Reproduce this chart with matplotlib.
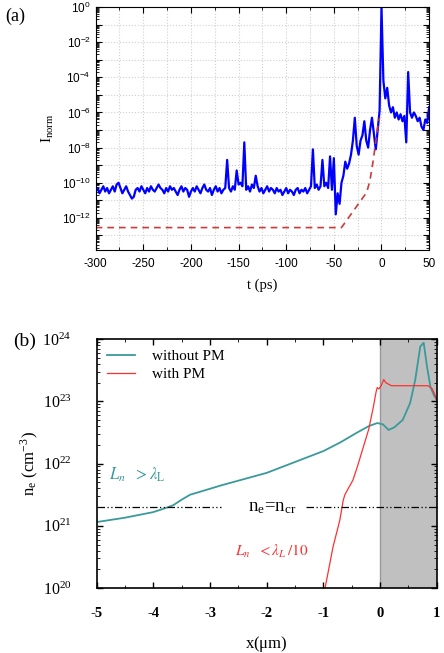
import numpy as np
import matplotlib
matplotlib.use("Agg")
import matplotlib.pyplot as plt
from matplotlib.ticker import FixedLocator, FuncFormatter, MultipleLocator, LogLocator, NullFormatter

plt.rcParams["mathtext.fontset"] = "stix"
plt.rcParams["axes.unicode_minus"] = False

# ---------------- data: panel (a) ----------------
t_ps = np.arange(-300, 51, 2)
log_I = [
    -10.5, -10.3, -10.6, -10.4, -10.2, -10.5, -10.3, -10.6, -10.4, -10.2,   # -300..-282
    -10.5, -10.1, -10.0, -10.3, -10.6, -10.4, -10.2, -10.5, -10.7, -10.9,   # -280..-262
    -10.8, -10.4, -10.3, -10.5, -10.2, -10.4, -10.6, -10.3, -10.5, -10.2,   # -260..-242
    -10.4, -10.5, -10.3, -10.1, -10.3, -10.4, -10.6, -10.3, -10.5, -10.2,   # -240..-222
    -10.4, -10.3, -10.5, -10.7, -10.4, -10.2, -10.5, -10.3, -10.4, -10.8,   # -220..-202
    -10.5, -10.3, -10.5, -10.2, -10.4, -10.6, -10.3, -10.1, -10.4, -10.5,   # -200..-182
    -10.3, -10.7, -10.4, -10.2, -10.5, -10.3, -10.6, -10.4, -10.3, -8.7,    # -180..-162
    -10.3, -10.5, -10.2, -10.4, -9.3, -10.1, -10.0, -10.2, -7.7, -10.4,     # -160..-142
    -10.2, -10.5, -10.1, -10.3, -9.6, -10.2, -10.5, -10.3, -10.6, -10.4,    # -140..-122
    -10.2, -10.5, -10.3, -10.4, -10.6, -10.3, -10.5, -10.4, -10.7, -10.5,   # -120..-102
    -10.3, -10.6, -10.4, -10.5, -10.7, -10.4, -10.3, -10.6, -10.4, -10.5,   # -100..-82
    -10.3, -10.6, -10.4, -10.2, -8.1, -10.3, -10.1, -10.4, -10.2, -8.7,     # -80..-62
    -10.2, -10.0, -10.3, -8.5, -10.4, -8.6, -11.8, -10.6, -11.2, -10.0,     # -60..-42
    -9.6, -8.8, -9.2, -8.9, -8.4, -7.6, -6.3, -7.9, -8.4, -7.6,             # -40..-22
    -7.3, -6.5, -7.6, -8.0, -7.0, -6.3, -7.2, -8.1, -7.0, -5.9,             # -20..-2
    0.0,                                                                    # 0
    -4.2, -5.2, -4.6, -5.6, -6.0, -5.7, -6.3, -6.0, -6.4, -6.1,             # 2..20
    -6.5, -6.2, -7.7, -3.7, -6.0, -6.3, -6.0, -6.2, -6.5, -6.3,             # 22..40
    -6.8, -7.0, -6.4, -6.6, -5.7,                                           # 42..50
]
t_contrast = [-300, -42, -15.6, -12.2, -8.7, -3.5, -2.0]
log_contrast = [-12.55, -12.55, -10.55, -9.9, -8.74, -6.65, -6.3]

# ---------------- data: panel (b) ----------------
x_noPM = [-5.0, -4.5, -4.0, -3.8, -3.65, -3.5, -3.35, -3.2, -2.8, -2.4, -2.0, -1.4, -1.0,
          -0.7, -0.4, -0.2, -0.05, 0.05, 0.15, 0.25, 0.4, 0.53, 0.62, 0.71, 0.77, 0.83,
          0.89, 0.95, 1.0]
log_noPM = [21.06, 21.13, 21.22, 21.28, 21.33, 21.42, 21.50, 21.54, 21.65, 21.75, 21.85,
            22.06, 22.20, 22.34, 22.50, 22.60, 22.65, 22.63, 22.54, 22.58, 22.70, 22.97,
            23.34, 23.88, 23.94, 23.55, 23.23, 23.10, 23.02]
x_PM = [-0.97, -0.83, -0.71, -0.65, -0.62, -0.56, -0.48, -0.4, -0.3, -0.2, -0.12, -0.07,
        -0.05, -0.02, 0.02, 0.065, 0.1, 0.2, 0.5, 0.85, 0.92, 0.97, 1.0]
log_PM = [20.0, 20.66, 21.09, 21.41, 21.5, 21.6, 21.73, 21.95, 22.25, 22.55, 22.9, 23.15,
          23.22, 23.2, 23.25, 23.35, 23.3, 23.25, 23.25, 23.25, 23.2, 23.1, 23.02]
n_cr = 2e21

fig = plt.figure(figsize=(4.44, 6.53), dpi=100)

# ================= panel (a) =================
ax = fig.add_axes([0.2155, 0.6172, 0.751, 0.3721])
ax.plot(t_ps, 10.0 ** np.array(log_I), color="#0000ff", lw=1.6)
ax.plot(t_contrast, 10.0 ** np.array(log_contrast), color="#cc3a3a", lw=1.2,
        ls=(0, (4, 3)))
ax.set_yscale("log")
ax.set_xlim(-300, 50)
ax.set_ylim(1.5e-14, 1)
ax.xaxis.set_major_locator(MultipleLocator(50))
ax.xaxis.set_minor_locator(MultipleLocator(25))
ax.yaxis.set_major_locator(FixedLocator([10.0 ** e for e in range(-14, 1)]))
ax.yaxis.set_minor_locator(LogLocator(base=10, subs=np.arange(2, 10), numticks=30))
ax.yaxis.set_minor_formatter(NullFormatter())


def fmt_a(v, pos):
    e = int(round(np.log10(v)))
    if e % 2 == 0 and e >= -12:
        return r"$\mathregular{10^{%d}}$" % e
    return ""


ax.yaxis.set_major_formatter(FuncFormatter(fmt_a))
ax.grid(True, which="both", axis="x", color="#d0d0d0", ls=":", lw=0.8)
ax.grid(True, which="major", axis="y", color="#d0d0d0", ls=":", lw=0.8)
ax.tick_params(which="both", direction="in", top=True, right=True,
               labelsize=8.5, labelfontfamily="Liberation Sans")
ax.tick_params(axis="x", pad=6)
ax.tick_params(which="major", length=4)
ax.tick_params(which="minor", length=2)
ax.set_xlabel("t (ps)", fontfamily="Liberation Serif", fontsize=10.5, labelpad=6)
ax.set_ylabel(r"I$_\mathregular{norm}$", fontfamily="Liberation Serif", fontsize=11)
fig.text(0.012, 0.975, "(a)", fontfamily="Liberation Serif", fontsize=13, va="center")

# ================= panel (b) =================
bx = fig.add_axes([0.2178, 0.0995, 0.7658, 0.3813])
bx.axvspan(0, 1, color="#c0c0c0", lw=0, zorder=0)
bx.axvline(0, color="#999999", lw=1.0, zorder=0.5)
l1, = bx.plot(x_noPM, 10.0 ** np.array(log_noPM), color="#3a9a9a", lw=1.3,
              label="without PM")
l2, = bx.plot(x_PM, 10.0 ** np.array(log_PM), color="#ff3030", lw=0.9, label="with PM")
dd = (0, (6, 2, 1, 2, 1, 2))
bx.plot([-5, -2.8], [n_cr, n_cr], color="black", lw=0.9, ls=dd)
bx.plot([-1.3, 1], [n_cr, n_cr], color="black", lw=0.9, ls=dd)
bx.text(-1.9, n_cr, r"n$_\mathregular{e}$=n$_\mathregular{cr}$", ha="center",
        va="center", fontsize=13.5, fontfamily="Liberation Serif")
bx.text(-4.78, 10 ** 21.82, r"$L_n\ \ >\lambda_\mathrm{L}$", color="#3a9a9a",
        fontsize=12, va="center")
bx.text(-2.56, 10 ** 20.58, r"$L_n\ \ <\lambda_L\,/10$", color="#ff3030",
        fontsize=11, va="center")
bx.set_yscale("log")
bx.set_xlim(-5, 1)
bx.set_ylim(1e20, 1e24)
bx.xaxis.set_major_locator(MultipleLocator(1))
bx.xaxis.set_minor_locator(MultipleLocator(0.5))
bx.yaxis.set_major_locator(FixedLocator([1e20, 1e21, 1e22, 1e23, 1e24]))
bx.yaxis.set_minor_locator(LogLocator(base=10, subs=np.arange(2, 10), numticks=30))
bx.yaxis.set_minor_formatter(NullFormatter())
bx.yaxis.set_major_formatter(FuncFormatter(
    lambda v, p: r"$\mathregular{10^{%d}}$" % int(round(np.log10(v)))))
bx.xaxis.set_major_formatter(FuncFormatter(lambda v, p: "%d" % round(v)))
bx.tick_params(which="both", direction="in", top=True, right=True,
               labelfontfamily="Liberation Serif")
bx.tick_params(which="major", length=4, width=1.0)
bx.tick_params(which="minor", length=2)
bx.tick_params(axis="y", labelsize=11.5, pad=18)
bx.tick_params(axis="x", labelsize=10.5, pad=14)
for s in bx.spines.values():
    s.set_linewidth(1.2)
bx.set_xlabel(r"x($\mathregular{\mu}$m)", fontfamily="Liberation Serif", fontsize=12,
              labelpad=10)
bx.set_ylabel(r"n$_\mathregular{e}$ (cm$^\mathregular{-3}$)", fontfamily="Liberation Serif",
              fontsize=12, labelpad=2)
leg = bx.legend(handles=[l1, l2], loc="upper left", frameon=False,
                prop={"family": "Liberation Serif", "size": 11},
                handlelength=1.8, handletextpad=1.1, labelspacing=0.25,
                borderaxespad=0.3, bbox_to_anchor=(0.0, 1.0))
fig.text(0.03, 0.478, "(b)", fontfamily="Liberation Serif", fontsize=14, va="center")

fig.canvas.draw()
for lab in bx.get_xticklabels():
    lab.set_fontweight("bold")

fig.savefig("out.png", dpi=100)
